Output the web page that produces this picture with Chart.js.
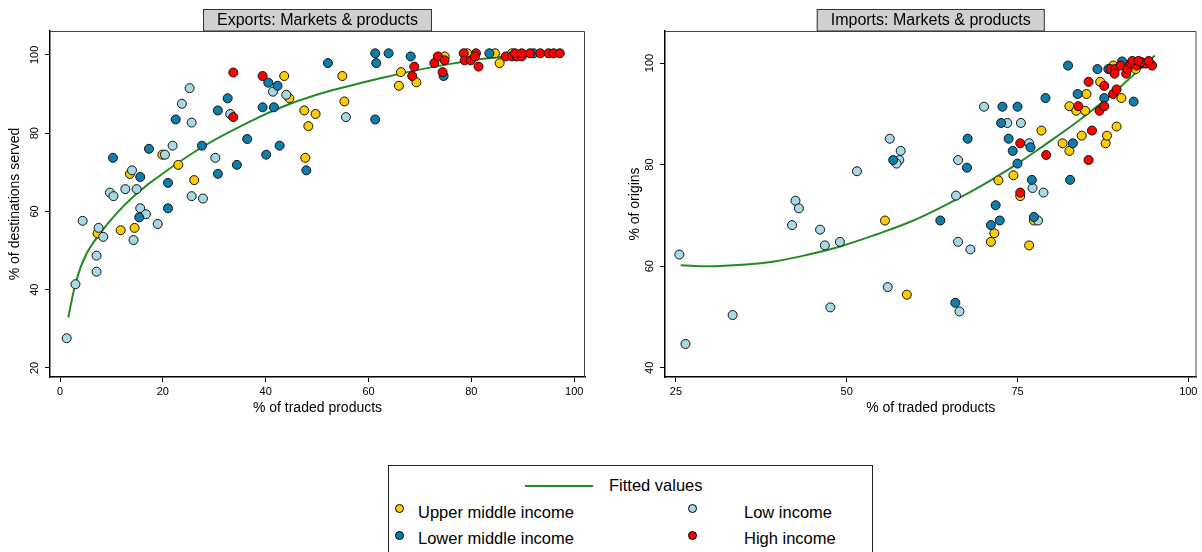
<!DOCTYPE html>
<html>
<head>
<meta charset="utf-8">
<script src="https://cdn.jsdelivr.net/npm/chart.js@4.4.0/dist/chart.umd.min.js"></script>
<style>
  body { margin: 0; background: #fff; width: 1202px; height: 552px; overflow: hidden; position: relative;
         font-family: 'Liberation Sans', Arial, sans-serif; }
  #exports { position: absolute; left: 0; top: 0; }
  #imports { position: absolute; left: 605px; top: 0; }
  .legend { position: absolute; left: 388px; top: 465px; width: 485px; height: 100px;
            border: 1px solid #222; box-sizing: border-box; font-size: 16.5px; color: #000; }
  .legend .txt { position: absolute; line-height: 20px; white-space: nowrap; }
  .legend .dot { position: absolute; width: 7px; height: 7px; border: 1px solid #000; border-radius: 50%; }
  .legend .ln  { position: absolute; height: 2px; background: #228b22; }
</style>
</head>
<body>
<canvas id="exports" width="605" height="430"></canvas>
<canvas id="imports" width="597" height="430"></canvas>

<div class="legend">
  <div class="ln" style="left:136px; top:19px; width:68px;"></div>
  <div class="txt" style="left:220px; top:9px;">Fitted values</div>
  <div class="dot" style="left:6px; top:38px; background:#ffcc00;"></div>
  <div class="txt" style="left:29px; top:36px;">Upper middle income</div>
  <div class="dot" style="left:299px; top:38px; background:#a8d8e6;"></div>
  <div class="txt" style="left:355px; top:36px;">Low income</div>
  <div class="dot" style="left:6px; top:65px; background:#0d7eab;"></div>
  <div class="txt" style="left:29px; top:62px;">Lower middle income</div>
  <div class="dot" style="left:299px; top:65px; background:#ff0000;"></div>
  <div class="txt" style="left:355px; top:62px;">High income</div>
</div>

<script>
// ---- Exports panel: [% of traded products, % of destinations served]
const exportsUpperMiddle = [
  [43.6, 94.6], [54.9, 94.6], [44.6, 88.9], [47.5, 85.8], [49.7, 84.9], [55.3, 88.1], [48.3, 81.8],
  [19.9, 74.5], [47.7, 73.7], [23.0, 71.9], [13.6, 69.6], [26.1, 68.0], [7.3, 54.4], [11.8, 55.2],
  [14.5, 55.8], [66.3, 95.6], [65.9, 92.1], [69.3, 93.0], [74.8, 99.6], [79.2, 100.4], [84.6, 100.4],
  [85.5, 97.9], [87.9, 100.4]
];
const exportsLowerMiddle = [
  [52.1, 97.9], [40.5, 92.9], [42.3, 92.1], [32.6, 88.9], [30.7, 85.8], [39.4, 86.6], [41.6, 86.6],
  [22.5, 83.5], [36.4, 78.5], [27.6, 76.8], [17.3, 76.0], [10.3, 73.7], [40.1, 74.5], [42.7, 76.8],
  [47.9, 70.5], [30.7, 69.6], [34.4, 71.9], [15.6, 68.8], [21.0, 67.3], [21.0, 60.8], [15.4, 58.5],
  [61.3, 83.5], [61.3, 100.4], [63.9, 100.4], [61.5, 97.9], [68.2, 99.6], [74.6, 94.6], [83.5, 100.4],
  [92.1, 100.4]
];
const exportsLow = [
  [41.4, 90.6], [25.2, 91.5], [44.0, 89.8], [23.7, 87.5], [33.1, 84.9], [55.6, 84.1], [25.6, 82.7],
  [21.9, 76.8], [20.4, 74.5], [30.2, 73.7], [14.0, 70.5], [9.7, 64.8], [10.4, 63.9], [12.7, 65.7],
  [14.9, 65.7], [25.6, 63.9], [27.8, 63.3], [15.6, 60.8], [16.7, 59.3], [19.0, 56.8], [4.4, 57.6],
  [7.5, 55.8], [8.4, 53.5], [14.3, 52.7], [7.1, 48.7], [7.1, 44.6], [3.0, 41.4], [1.3, 27.6]
];
const exportsHigh = [
  [33.7, 95.5], [39.4, 94.6], [33.7, 84.1], [68.9, 97.0], [68.5, 94.6], [72.8, 97.9], [73.5, 99.6],
  [74.8, 98.6], [74.4, 95.6], [78.5, 100.4], [80.9, 100.4], [78.7, 98.6], [79.9, 98.6], [80.7, 99.6],
  [81.4, 97.0], [86.7, 99.6], [87.9, 99.6], [88.8, 99.6], [89.8, 99.6], [88.5, 100.4], [89.8, 100.4],
  [91.4, 100.4], [93.4, 100.4], [95.0, 100.4], [96.0, 100.4], [97.2, 100.4]
];
const exportsFitted = [
  [1.6, 32.9], [3.2, 42.5], [5.2, 49.3], [7.8, 54.4], [11.0, 59.5], [14.3, 63.8], [18.2, 68.0],
  [27.6, 76.4], [37.0, 83.0], [43.4, 86.8], [49.9, 89.8], [56.4, 92.1], [62.9, 94.2], [69.4, 96.1],
  [75.9, 97.7], [82.4, 99.0], [86.2, 99.6], [92.0, 100.3], [97.2, 100.8]
];
const exportsXTicks = [0, 20, 40, 60, 80, 100];
const exportsYTicks = [20, 40, 60, 80, 100];

// ---- Imports panel: [% of traded products, % of origins]
const importsUpperMiddle = [
  [55.6, 69.0], [58.8, 54.4], [72.2, 76.9], [74.4, 77.9], [75.4, 73.8], [71.6, 66.5], [71.1, 64.8],
  [77.4, 69.0], [76.7, 64.1], [78.5, 86.7], [81.6, 84.2], [82.6, 82.7], [84.4, 85.7], [87.9, 84.2],
  [88.1, 85.7], [89.5, 87.5], [82.6, 91.5], [83.6, 90.6], [84.9, 90.6], [85.1, 93.9], [87.1, 96.3],
  [90.2, 93.1], [89.0, 99.5], [92.3, 98.8]
];
const importsLowerMiddle = [
  [56.8, 80.9], [67.6, 79.4], [67.7, 85.1], [72.8, 91.4], [75.0, 91.4], [72.6, 88.2], [73.7, 85.1],
  [76.9, 83.4], [74.3, 82.7], [75.0, 80.2], [77.1, 77.0], [71.8, 72.0], [63.7, 69.0], [71.1, 68.1],
  [72.4, 69.0], [77.4, 69.7], [65.9, 52.8], [79.1, 93.1], [82.7, 77.0], [83.1, 84.2], [82.4, 99.5],
  [86.7, 98.8], [83.8, 93.9], [87.7, 93.1], [92.0, 92.4], [88.3, 98.8], [90.3, 100.3]
];
const importsLow = [
  [25.5, 62.3], [26.4, 44.7], [33.3, 50.4], [42.5, 72.9], [43.0, 71.4], [42.0, 68.1], [46.1, 67.2],
  [46.8, 64.1], [49.0, 64.8], [47.6, 51.9], [56.0, 55.9], [56.3, 85.1], [57.9, 82.7], [57.7, 80.9],
  [57.3, 80.2], [51.5, 78.7], [66.3, 80.9], [70.1, 91.4], [73.5, 88.2], [75.5, 88.2], [76.7, 84.2],
  [77.2, 75.4], [78.8, 74.5], [66.0, 73.9], [78.0, 69.0], [66.3, 64.8], [68.1, 63.3], [66.5, 51.1]
];
const importsHigh = [
  [75.4, 84.2], [75.4, 74.5], [79.2, 81.9], [85.9, 86.7], [85.4, 80.9], [83.9, 91.5], [87.0, 90.6],
  [87.7, 91.5], [85.4, 96.3], [87.7, 95.5], [89.0, 93.9], [89.5, 94.8], [88.6, 98.8], [89.3, 98.8],
  [89.2, 97.9], [90.1, 99.5], [90.9, 97.9], [91.1, 98.8], [91.6, 99.9], [92.4, 99.5], [93.3, 99.9],
  [93.8, 99.9], [93.1, 100.2], [94.7, 99.5], [91.8, 100.4], [92.7, 100.4], [94.2, 100.4]
];
const importsFitted = [
  [25.7, 60.2], [29.8, 60.0], [34.7, 60.3], [39.6, 61.0], [44.4, 62.3], [49.3, 64.0], [54.2, 66.2],
  [59.4, 68.8], [64.4, 72.0], [69.3, 75.5], [75.0, 80.2], [79.0, 83.9], [83.9, 88.6], [87.8, 92.7],
  [91.2, 96.7], [95.1, 101.5]
];
const importsXTicks = [25, 50, 75, 100];
const importsYTicks = [40, 60, 80, 100];

const FONT = "'Liberation Sans', Arial, sans-serif";
const colors = { upper: '#ffcc00', lower: '#0d7eab', low: '#a8d8e6', high: '#ff0000', fit: '#228b22' };

Chart.defaults.font.family = FONT;
Chart.defaults.color = '#000';

const toXY = arr => arr.map(([x, y]) => ({ x, y }));

// strip title, top/right frame and rotated y tick labels
const panelDecor = {
  id: 'panelDecor',
  afterDraw(chart, args, opts) {
    const { ctx, chartArea: a } = chart;
    const yScale = chart.scales.y;
    ctx.save();
    ctx.strokeStyle = '#444';
    ctx.lineWidth = 1;
    ctx.beginPath();
    ctx.moveTo(a.left, a.top + 0.5);
    ctx.lineTo(a.right - 0.5, a.top + 0.5);
    ctx.lineTo(a.right - 0.5, a.bottom);
    ctx.stroke();

    ctx.fillStyle = '#000';
    ctx.font = '11px ' + FONT;
    ctx.textAlign = 'center';
    ctx.textBaseline = 'middle';
    yScale.ticks.forEach(t => {
      const y = yScale.getPixelForValue(t.value);
      ctx.save();
      ctx.translate(a.left - 15.5, y);
      ctx.rotate(-Math.PI / 2);
      ctx.fillText(String(t.value), 0, 0);
      ctx.restore();
    });

    ctx.font = '16px ' + FONT;
    const w = ctx.measureText(opts.text).width + 28;
    const cx = (a.left + a.right) / 2;
    ctx.fillStyle = '#d0d0d0';
    ctx.fillRect(cx - w / 2, 9, w, 22);
    ctx.strokeStyle = '#333';
    ctx.strokeRect(cx - w / 2 + 0.5, 9.5, w - 1, 21.5);
    ctx.fillStyle = '#000';
    ctx.fillText(opts.text, cx, 20.5);
    ctx.restore();
  }
};

function scatterSet(label, data, color) {
  return {
    label,
    data: toXY(data),
    backgroundColor: color,
    borderColor: '#111',
    borderWidth: 1,
    pointRadius: 4.5,
    pointHoverRadius: 4.5,
  };
}

function makePanel(id, p) {
  new Chart(document.getElementById(id), {
    type: 'scatter',
    data: {
      datasets: [
        scatterSet('High income', p.high, colors.high),
        scatterSet('Lower middle income', p.lower, colors.lower),
        scatterSet('Low income', p.low, colors.low),
        scatterSet('Upper middle income', p.upper, colors.upper),
        {
          type: 'line',
          label: 'Fitted values',
          data: toXY(p.fit),
          borderColor: colors.fit,
          borderWidth: 2,
          pointRadius: 0,
          fill: false,
          tension: 0.4,
        },
      ],
    },
    options: {
      responsive: false,
      animation: false,
      layout: { padding: { top: 31, right: p.padRight, bottom: 0, left: 0 } },
      plugins: {
        legend: { display: false },
        tooltip: { enabled: false },
        panelDecor: { text: p.title },
      },
      scales: {
        x: {
          type: 'linear',
          min: p.xMin, max: p.xMax,
          afterBuildTicks: s => { s.ticks = p.xTicks.map(v => ({ value: v })); },
          afterFit: s => { s.height = 53; },
          grid: { drawOnChartArea: false, drawTicks: true, tickLength: 5, color: '#000', lineWidth: 1 },
          border: { display: true, color: '#000', width: 1.5 },
          ticks: { autoSkip: false, maxRotation: 0, padding: 3, font: { size: 11 }, color: '#000' },
          title: { display: true, text: '% of traded products', font: { size: 14 },
                   padding: { top: 0, bottom: 13.6 } },
        },
        y: {
          type: 'linear',
          min: p.yMin, max: p.yMax,
          afterBuildTicks: s => { s.ticks = p.yTicks.map(v => ({ value: v })); },
          afterFit: s => { s.width = p.yWidth; },
          grid: { drawOnChartArea: false, drawTicks: true, tickLength: 5, color: '#000', lineWidth: 1 },
          border: { display: true, color: '#000', width: 1.5 },
          ticks: { display: false },
          title: { display: true, text: p.yTitle, font: { size: 14 },
                   padding: { top: p.yTitlePad, bottom: 0 } },
        },
      },
    },
    plugins: [panelDecor],
  });
}

makePanel('exports', {
  title: 'Exports: Markets & products',
  yTitle: '% of destinations served',
  upper: exportsUpperMiddle, lower: exportsLowerMiddle, low: exportsLow, high: exportsHigh,
  fit: exportsFitted,
  xTicks: exportsXTicks, yTicks: exportsYTicks,
  xMin: -1.95, xMax: 102.1, yMin: 17.7, yMax: 106.1,
  yWidth: 50, yTitlePad: 6.6, padRight: 20,
});

makePanel('imports', {
  title: 'Imports: Markets & products',
  yTitle: '% of origins',
  upper: importsUpperMiddle, lower: importsLowerMiddle, low: importsLow, high: importsHigh,
  fit: importsFitted,
  xTicks: importsXTicks, yTicks: importsYTicks,
  xMin: 23.4, xMax: 101.2, yMin: 38.2, yMax: 106.3,
  yWidth: 60, yTitlePad: 21.6, padRight: 5,
});
</script>
</body>
</html>
